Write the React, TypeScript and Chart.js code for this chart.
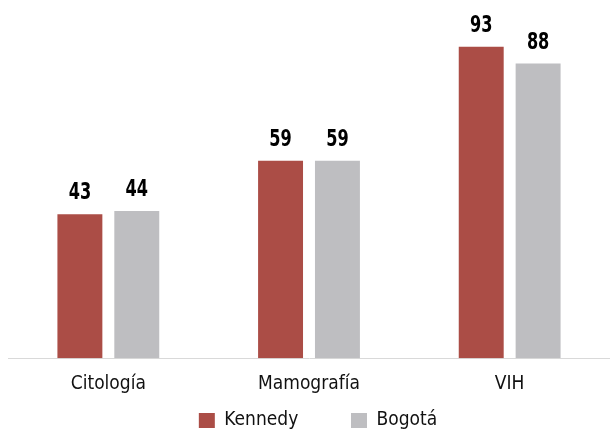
import React, { useEffect, useRef } from "react";
import { Chart, registerables } from "chart.js";

Chart.register(...registerables);

const categories = ["Citología", "Mamografía", "VIH"];
const kennedyValues = [43, 59, 93];
const bogotaValues = [44, 59, 88];
const seriesNames = ["Kennedy", "Bogotá"];

const FONT = "'DejaVu Sans Condensed', 'Liberation Sans Narrow', sans-serif";

const valueLabels = {
  id: "valueLabels",
  afterDatasetsDraw(chart: any) {
    const ctx = chart.ctx;
    chart.data.datasets.forEach((ds: any, i: number) => {
      const meta = chart.getDatasetMeta(i);
      meta.data.forEach((bar: any, j: number) => {
        ctx.save();
        ctx.font = `bold 23px ${FONT}`;
        ctx.fillStyle = "#000000";
        ctx.textAlign = "center";
        ctx.textBaseline = "alphabetic";
        ctx.translate(bar.x, bar.y - 15);
        ctx.scale(0.78, 1);
        ctx.fillText(String(ds.data[j]), 0, 0);
        ctx.restore();
      });
    });
  },
};

const legendShift = {
  id: "legendShift",
  afterLayout(chart: any) {
    if (chart.legend) {
      chart.legend.left += 9;
      chart.legend.right += 9;
    }
  },
};

export default function App() {
  const ref = useRef<HTMLCanvasElement>(null);
  useEffect(() => {
    if (!ref.current) return;
    const chart = new Chart(ref.current, {
      type: "bar",
      data: {
        labels: categories,
        datasets: [
          { label: seriesNames[0], data: kennedyValues, backgroundColor: "#AB4D46" },
          { label: seriesNames[1], data: bogotaValues, backgroundColor: "#BEBEC1" },
        ],
      },
      options: {
        animation: false,
        responsive: false,
        maintainAspectRatio: false,
        layout: { padding: { left: 8, right: 0, top: 0, bottom: -6 } },
        datasets: {
          bar: { categoryPercentage: 0.567, barPercentage: 0.79 },
        },
        scales: {
          x: {
            grid: { display: false },
            border: { display: true, color: "#D9D9D9", width: 1 },
            ticks: { color: "#111111", font: { family: FONT, size: 19 }, padding: 6 },
          },
          y: {
            display: false,
            min: 0,
            max: 107,
          },
        },
        plugins: {
          legend: {
            position: "bottom",
            labels: {
              boxWidth: 16,
              boxHeight: 15,
              padding: 10,
              color: "#111111",
              font: { family: FONT, size: 19 },
              generateLabels: (chart: any) => {
                const items = Chart.defaults.plugins.legend.labels.generateLabels(chart);
                return items.map((it: any, i: number) =>
                  i < items.length - 1 ? { ...it, text: it.text + "\u2003\u2003\u2002" } : it
                );
              },
            },
          },
          tooltip: { enabled: false },
        },
      },
      plugins: [valueLabels, legendShift],
    });
    return () => chart.destroy();
  }, []);
  return (
    <div style={{ position: "fixed", left: 0, top: 0, width: 610, height: 434 }}>
      <canvas ref={ref} width={610} height={434} style={{ width: 610, height: 434 }} />
    </div>
  );
}
